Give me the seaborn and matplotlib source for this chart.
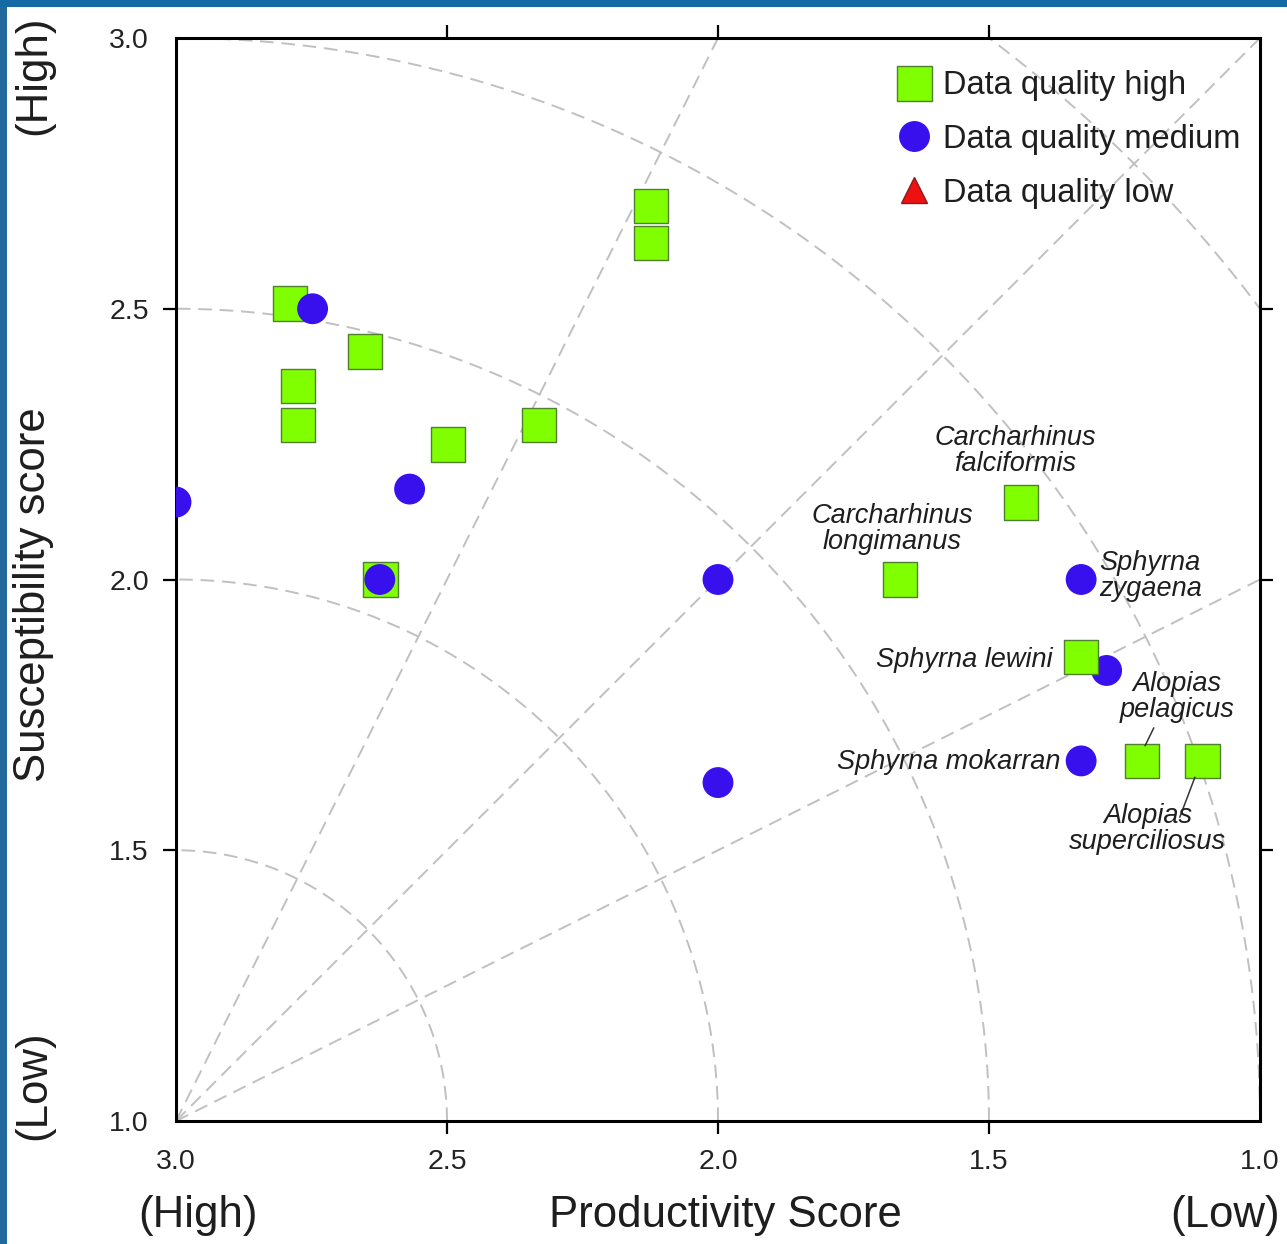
import numpy as np
import pandas as pd
import matplotlib
matplotlib.use("Agg")
import matplotlib.pyplot as plt
import seaborn as sns
from matplotlib.lines import Line2D
from matplotlib.patches import Rectangle
from matplotlib.ticker import FormatStrFormatter

# ---------------- data ----------------
# points listed in drawing order (later points are drawn on top)
productivity = [1.283, 2.124, 2.124, 2.790, 2.651, 2.775, 2.775, 2.498, 2.330,
                2.623, 1.664, 1.441, 1.330, 1.218, 1.106,
                2.748, 3.000, 2.569, 2.624, 2.000, 2.000, 1.330, 1.330]
susceptibility = [1.832, 2.690, 2.622, 2.510, 2.421, 2.357, 2.285, 2.249, 2.285,
                  2.000, 2.000, 2.142, 1.857, 1.665, 1.665,
                  2.500, 2.143, 2.167, 2.000, 2.000, 1.625, 2.000, 1.665]
quality = ["medium", "high", "high", "high", "high", "high", "high", "high", "high",
           "high", "high", "high", "high", "high", "high",
           "medium", "medium", "medium", "medium", "medium", "medium", "medium", "medium"]

legend_labels = ["Data quality high", "Data quality medium", "Data quality low"]
tick_values = [3.0, 2.5, 2.0, 1.5, 1.0]
contour_radii = [0.5, 1.0, 1.5, 2.0, 2.5]
ray_slopes = [0.5, 1.0, 2.0]

df = pd.DataFrame({"productivity": productivity,
                   "susceptibility": susceptibility,
                   "quality": quality})

# ---------------- style ----------------
sns.set_style("ticks")
plt.rcParams["font.family"] = ["Liberation Sans", "DejaVu Sans"]

GREEN = "#80FF00"
GREEN_EDGE = "#4F7F2F"
BLUE = "#3810EE"
RED = "#EE1111"
GRID = "#C0C0C0"
TXT = "#1E1E1E"

fig = plt.figure(figsize=(12.87, 12.44), dpi=100)
fig.patch.set_facecolor("white")
# slide frame strips
fig.patches.append(Rectangle((0, 0), 7 / 1287, 1, transform=fig.transFigure,
                             facecolor="#22689A", edgecolor="none", zorder=0))
fig.patches.append(Rectangle((0, 1 - 7 / 1244), 1, 7 / 1244, transform=fig.transFigure,
                             facecolor="#146AA2", edgecolor="none", zorder=0))

ax = fig.add_axes([176 / 1287, 123 / 1244, 1084 / 1287, 1083 / 1244])

# ---------------- guide arcs and rays ----------------
theta = np.linspace(0, np.pi / 2, 400)
for r in contour_radii:
    ax.plot(3 - r * np.cos(theta), 1 + r * np.sin(theta), color=GRID, lw=1.4,
            dashes=(7, 4), zorder=1)
for m in ray_slopes:
    dx = min(2.0, 2.0 / m)
    ax.plot([3, 3 - dx], [1, 1 + m * dx], color=GRID, lw=1.4, dashes=(7, 4), zorder=1)

# ---------------- points ----------------
edges = [GREEN_EDGE if q == "high" else BLUE for q in quality]
sns.scatterplot(data=df, x="productivity", y="susceptibility",
                hue="quality", style="quality", size="quality",
                palette={"high": GREEN, "medium": BLUE},
                markers={"high": "s", "medium": "o"},
                sizes={"high": 1225 / 2, "medium": 450},
                edgecolor=edges, linewidth=1.0, legend=False, ax=ax, zorder=3)

# ---------------- species labels ----------------
lab = dict(fontsize=19.5, style="italic", color=TXT, zorder=4)
ax.text(1.452, 2.237, "Carcharhinus\nfalciformis", ha="center", va="center",
        linespacing=1.02, **lab)
ax.text(1.679, 2.093, "Carcharhinus\nlongimanus", ha="center", va="center",
        linespacing=1.02, **lab)
ax.text(1.297, 2.006, "Sphyrna\nzygaena", ha="left", va="center", linespacing=1.02, **lab)
ax.text(1.382, 1.851, "Sphyrna lewini", ha="right", va="center", **lab)
ax.text(1.369, 1.663, "Sphyrna mokarran", ha="right", va="center", **lab)
ax.text(1.153, 1.783, "Alopias\npelagicus", ha="center", va="center",
        linespacing=1.02, **lab)
ax.text(1.207, 1.539, "Alopias\nsuperciliosus", ha="center", va="center",
        linespacing=1.02, **lab)
leader = dict(arrowstyle="-", color="#333333", lw=1.1, shrinkA=0, shrinkB=0)
ax.annotate("", xy=(1.212, 1.693), xytext=(1.196, 1.726), arrowprops=leader)
ax.annotate("", xy=(1.120, 1.635), xytext=(1.148, 1.561), arrowprops=leader)

# ---------------- axes ----------------
ax.set_xlim(3, 1)
ax.set_ylim(1, 3)
ax.set_xticks(tick_values)
ax.set_yticks(tick_values)
ax.xaxis.set_major_formatter(FormatStrFormatter("%.1f"))
ax.yaxis.set_major_formatter(FormatStrFormatter("%.1f"))
ax.tick_params(axis="both", which="major", direction="out", length=9.5, width=1.6,
               color="black", labelsize=20.5, labelcolor="#222222",
               top=True, right=True, labeltop=False, labelright=False)
ax.tick_params(axis="x", pad=11)
ax.tick_params(axis="y", pad=10)
for axis in (ax.xaxis, ax.yaxis):
    ticks = axis.get_major_ticks()
    for t in (ticks[0], ticks[-1]):
        t.tick1line.set_visible(False)
        t.tick2line.set_visible(False)
for sp in ax.spines.values():
    sp.set_visible(True)
    sp.set_linewidth(2.2)
    sp.set_color("black")

ax.set_xlabel("Productivity Score", fontsize=31.5, color=TXT)
ax.xaxis.set_label_coords(0.5065, -0.087)
ax.xaxis.label.set_va("center")
ax.set_ylabel("Susceptibility score", fontsize=31.5, color=TXT)
ax.yaxis.set_label_coords(-0.131, 0.486)
ax.yaxis.label.set_va("center")

side = dict(fontsize=31.5, color=TXT, transform=ax.transAxes, va="center", ha="center")
ax.text(0.020, -0.087, "(High)", **side)
ax.text(0.968, -0.087, "(Low)", **side)
ax.text(-0.131, 0.966, "(High)", rotation=90, **side)
ax.text(-0.131, 0.033, "(Low)", rotation=90, **side)

# ---------------- legend ----------------
handles = [
    Line2D([], [], ls="none", marker="s", markersize=35 * 0.72, markerfacecolor=GREEN,
           markeredgecolor=GREEN_EDGE, markeredgewidth=1.0),
    Line2D([], [], ls="none", marker="o", markersize=29.5 * 0.72, markerfacecolor=BLUE,
           markeredgecolor=BLUE, markeredgewidth=1.0),
    Line2D([], [], ls="none", marker="^", markersize=27 * 0.72, markerfacecolor=RED,
           markeredgecolor="#8B1A1A", markeredgewidth=1.0),
]
ax.legend(handles, legend_labels, loc="upper left", bbox_to_anchor=(0.6624, 0.9705),
          frameon=False, fontsize=23.5, borderpad=0, borderaxespad=0,
          handlelength=1.2, handletextpad=0.3, labelspacing=0.7, labelcolor=TXT)

fig.savefig("out.png", dpi=100, facecolor=fig.get_facecolor())
